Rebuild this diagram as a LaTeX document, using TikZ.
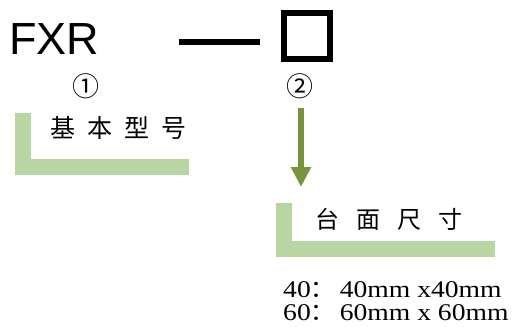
\documentclass[tikz,border=0pt]{standalone}
\usepackage{fontspec}
\setmainfont{Liberation Serif}
\newfontfamily\cjk{Noto Sans CJK SC}
\newfontfamily\headfont{Liberation Sans}
\newfontfamily\widefont[FakeStretch=1.15]{Liberation Serif}
\usetikzlibrary{arrows.meta}
\definecolor{barGreen}{RGB}{184,214,163}
\definecolor{arrowGreen}{RGB}{119,147,60}

\begin{document}
\begin{tikzpicture}[x=1pt, y=-1pt,
    bracketbar/.style={draw=barGreen, line width=16pt, line join=miter},
    numlabel/.style={inner sep=0pt, font=\cjk\fontsize{27}{27}\selectfont},
    sizetext/.style={anchor=base west, inner sep=0pt, font=\widefont\fontsize{24}{24}\selectfont}]
    \useasboundingbox[fill=white] (0,0) rectangle (513,326);

    \node[anchor=base west, inner sep=0pt, font=\headfont\fontsize{45}{45}\selectfont] (model) at (9,55) {FXR};
    \draw[line width=6pt] (179,42) -- (260,42);
    \draw[line width=6pt] (284,13) rectangle (330,59);
    \node[numlabel] (num1) at (86,86) {①};
    \node[numlabel] (num2) at (300,86) {②};

    \draw[bracketbar] (23,113) -- (23,167) -- (189,167);
    \node[anchor=west, inner sep=0pt, font=\cjk\fontsize{25}{25}\selectfont] (basic) at (50,128)
        {基\hspace{12pt}本\hspace{12pt}型\hspace{12pt}号};

    \coordinate (arrowtop) at (301,108);
    \coordinate (arrowtip) at (301,187);
    \draw[arrowGreen, line width=6pt, -{Triangle[width=19pt, length=20pt]}] (arrowtop) -- (arrowtip);

    \draw[bracketbar] (284,203) -- (284,249) -- (495,249);
    \node[anchor=west, inner sep=0pt, font=\cjk\fontsize{24}{24}\selectfont] (table) at (315,219)
        {台\hspace{17pt}面\hspace{17pt}尺\hspace{17pt}寸};

    \node[sizetext] (size40) at (283,297) {40{\cjk ：}\hspace{5pt}40mm x40mm};
    \node[sizetext] (size60) at (283,320) {60{\cjk ：}\hspace{5pt}60mm x 60mm};
\end{tikzpicture}
\end{document}
